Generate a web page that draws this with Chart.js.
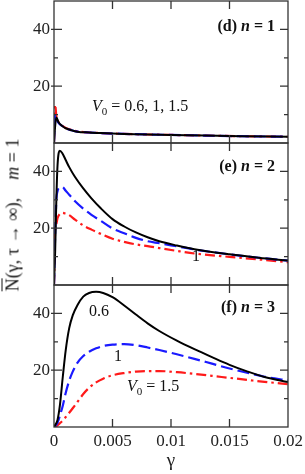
<!DOCTYPE html>
<html>
<head>
<meta charset="utf-8">
<script src="https://cdn.jsdelivr.net/npm/chart.js@4"></script>
<style>
  body { margin: 0; background: #fff; }
  #wrap { position: relative; width: 305px; height: 474px; font-family: "Liberation Serif", serif; color: #111; }
  #wrap canvas { position: absolute; left: 0; top: 0; }
  .lbl { position: absolute; font-size: 16px; line-height: 16px; white-space: nowrap; }
  .b { font-weight: bold; }
  sub { font-size: 11px; vertical-align: -4px; line-height: 0; }
  #ytitle { position: absolute; left: 13px; top: 215px; font-size: 18px; white-space: nowrap;
            transform: translate(-50%, -50%) rotate(-90deg); }
</style>
</head>
<body>
<div id="wrap">
  <canvas id="cd" width="305" height="474"></canvas>
  <canvas id="ce" width="305" height="474"></canvas>
  <canvas id="cf" width="305" height="474"></canvas>
  <div class="lbl b" style="right:30px;top:18px">(d) <i>n</i> = 1</div>
  <div class="lbl b" style="right:30px;top:158px">(e) <i>n</i> = 2</div>
  <div class="lbl b" style="right:30px;top:299px">(f) <i>n</i> = 3</div>
  <div class="lbl" style="left:92px;top:98px"><i>V</i><sub>0</sub> = 0.6, 1, 1.5</div>
  <div class="lbl" style="left:192px;top:248px">1</div>
  <div class="lbl" style="left:89px;top:303px">0.6</div>
  <div class="lbl" style="left:114px;top:348px">1</div>
  <div class="lbl" style="left:127px;top:378px"><i>V</i><sub>0</sub> = 1.5</div>
  <div id="ytitle"><span style="text-decoration:overline">N</span>(γ, τ → ∞),&nbsp;&nbsp;&nbsp; <i>m</i> = 1</div>
</div>
<script>
// panel (d), n = 1
const dGamma = [0, 0.0001, 0.0002, 0.0004, 0.0007, 0.001, 0.0015, 0.002, 0.003, 0.004, 0.006, 0.008, 0.01, 0.013, 0.016, 0.02];
const dV06 = [0, 6, 9, 7.2, 6.0, 5.2, 4.5, 4.0, 3.7, 3.5, 3.2, 3.0, 2.85, 2.6, 2.4, 2.2];
const dV1 = [0, 10.5, 8.5, 7.0, 6.0, 5.2, 4.5, 4.0, 3.7, 3.5, 3.2, 3.0, 2.85, 2.6, 2.4, 2.2];
const dV15 = [0, 13.5, 9.5, 7.3, 6.1, 5.3, 4.6, 4.1, 3.7, 3.5, 3.2, 3.0, 2.85, 2.6, 2.4, 2.2];

// panel (e), n = 2
const eGamma = [0, 0.0001, 0.0002, 0.0003, 0.0005, 0.0007, 0.001, 0.0013, 0.0018, 0.0025, 0.0032, 0.004, 0.005, 0.006, 0.007, 0.008, 0.009, 0.0105, 0.012, 0.015, 0.0175, 0.02];
const eV06 = [0, 12, 30, 42, 47.3, 46.5, 44, 41.5, 38, 34, 30.5, 27, 23.2, 20.6, 18.5, 16.8, 15.4, 13.9, 12.6, 10.8, 9.6, 8.6];
const eV1 = [0, 18, 30, 33, 34.3, 34.5, 33.2, 31.8, 29.5, 26.9, 24.7, 22.6, 19.9, 18.2, 16.6, 15.4, 14.7, 13.6, 12.5, 10.8, 9.6, 8.6];
const eV15 = [0, 19.5, 21.5, 23.5, 25, 25.4, 25.1, 24.6, 23, 21, 19.5, 18, 16.3, 15.2, 14.3, 13.7, 13, 12, 11.1, 9.9, 9, 8.0];

// panel (f), n = 3
const fGamma = [0, 0.0003, 0.0005, 0.00075, 0.001, 0.0013, 0.0016, 0.002, 0.0025, 0.003, 0.0036, 0.0042, 0.005, 0.006, 0.007, 0.008, 0.009, 0.0105, 0.012, 0.0135, 0.015, 0.0165, 0.018, 0.02];
const fV06 = [0, 2.5, 7.5, 17.6, 27, 34.8, 39.3, 42.9, 45.9, 47.2, 47.6, 47.2, 45.7, 42.8, 39.6, 36.5, 33.8, 30.4, 27.4, 24.6, 21.9, 19.6, 17.6, 15.8];
const fV1 = [0, 1.5, 4, 7.5, 12, 16.3, 19.5, 22.6, 25, 26.5, 27.7, 28.5, 29, 29.2, 28.8, 28, 27.1, 25.6, 24, 22.3, 20.6, 19.1, 17.7, 16.4];
const fV15 = [0, 0.6, 1.3, 2.3, 3.5, 5, 6.6, 8.8, 11.6, 13.8, 15.7, 17, 18.2, 19, 19.5, 19.7, 19.7, 19.3, 18.7, 18, 17.3, 16.6, 15.9, 15.1];

const gammaTicks = [0, 0.005, 0.01, 0.015, 0.02];
const yLabelTicks = [20, 40];

const tickFont = { family: 'Liberation Serif', size: 17 };

function pts(xs, ys) {
    return xs.map((x, i) => ({ x: x, y: ys[i] }));
}

function curves(xs, a, b, c) {
    return [
        { data: pts(xs, a), borderColor: '#000000', borderWidth: 2 },
        { data: pts(xs, b), borderColor: '#1a1aff', borderWidth: 2.2, borderDash: [12, 5] },
        { data: pts(xs, c), borderColor: '#ff1a1a', borderWidth: 2.2, borderDash: [10, 4, 2.5, 4] },
    ];
}

// box round each panel, with ticks pointing inwards
const frame = {
    id: 'frame',
    afterDraw(chart) {
        const { ctx, chartArea: a, scales } = chart;
        const x = scales.x, y = scales.y;
        ctx.save();
        ctx.strokeStyle = '#333';
        ctx.lineWidth = 1.3;
        ctx.beginPath();
        [10, 20, 30, 40].forEach(v => {
            const p = y.getPixelForValue(v);
            const len = v % 20 === 0 ? 8 : 4;
            ctx.moveTo(a.left - (len === 8 ? 3 : 0), p); ctx.lineTo(a.left + len, p);
            ctx.moveTo(a.right, p); ctx.lineTo(a.right - len, p);
        });
        [0.005, 0.01, 0.015].forEach(v => {
            const p = x.getPixelForValue(v);
            ctx.moveTo(p, a.top); ctx.lineTo(p, a.top + 8);
            ctx.moveTo(p, a.bottom); ctx.lineTo(p, a.bottom - 8);
        });
        ctx.stroke();
        ctx.strokeRect(a.left, a.top, a.right - a.left, a.bottom - a.top);
        ctx.restore();
    },
};

function makePanel(id, sets, top, bottom, showX) {
    return new Chart(document.getElementById(id), {
        type: 'line',
        data: { datasets: sets },
        options: {
            responsive: false,
            animation: false,
            events: [],
            layout: { padding: { top: top, bottom: bottom, left: 0, right: 17 } },
            elements: {
                point: { radius: 0 },
                line: { cubicInterpolationMode: 'monotone', fill: false },
            },
            plugins: { legend: { display: false }, tooltip: { enabled: false } },
            scales: {
                x: {
                    type: 'linear',
                    min: 0,
                    max: 0.02,
                    display: showX,
                    grid: { display: false, drawTicks: false },
                    border: { display: false },
                    afterBuildTicks: s => { s.ticks = gammaTicks.map(v => ({ value: v })); },
                    afterFit: s => { s.height = showX ? 47 : 0; s.paddingLeft = 0; s.paddingRight = 0; },
                    ticks: {
                        padding: 4,
                        color: '#222',
                        font: tickFont,
                        maxRotation: 0,
                        callback: v => String(Number(v.toFixed(4))),
                    },
                    title: {
                        display: true,
                        text: 'γ',
                        color: '#222',
                        font: { family: 'Liberation Serif', size: 19 },
                        padding: { top: 0, bottom: 2 },
                    },
                },
                y: {
                    min: 0,
                    max: 50,
                    grid: { display: false, drawTicks: false },
                    border: { display: false },
                    afterBuildTicks: s => { s.ticks = yLabelTicks.map(v => ({ value: v })); },
                    afterFit: s => { s.width = 54; s.paddingTop = 0; s.paddingBottom = 0; },
                    ticks: { padding: 4, color: '#222', font: tickFont },
                },
            },
        },
        plugins: [frame],
    });
}

makePanel('cd', curves(dGamma, dV06, dV1, dV15), 1, 331, false);
makePanel('ce', curves(eGamma, eV06, eV1, eV15), 143, 189, false);
makePanel('cf', curves(fGamma, fV06, fV1, fV15), 285, 0, true);
</script>
</body>
</html>
